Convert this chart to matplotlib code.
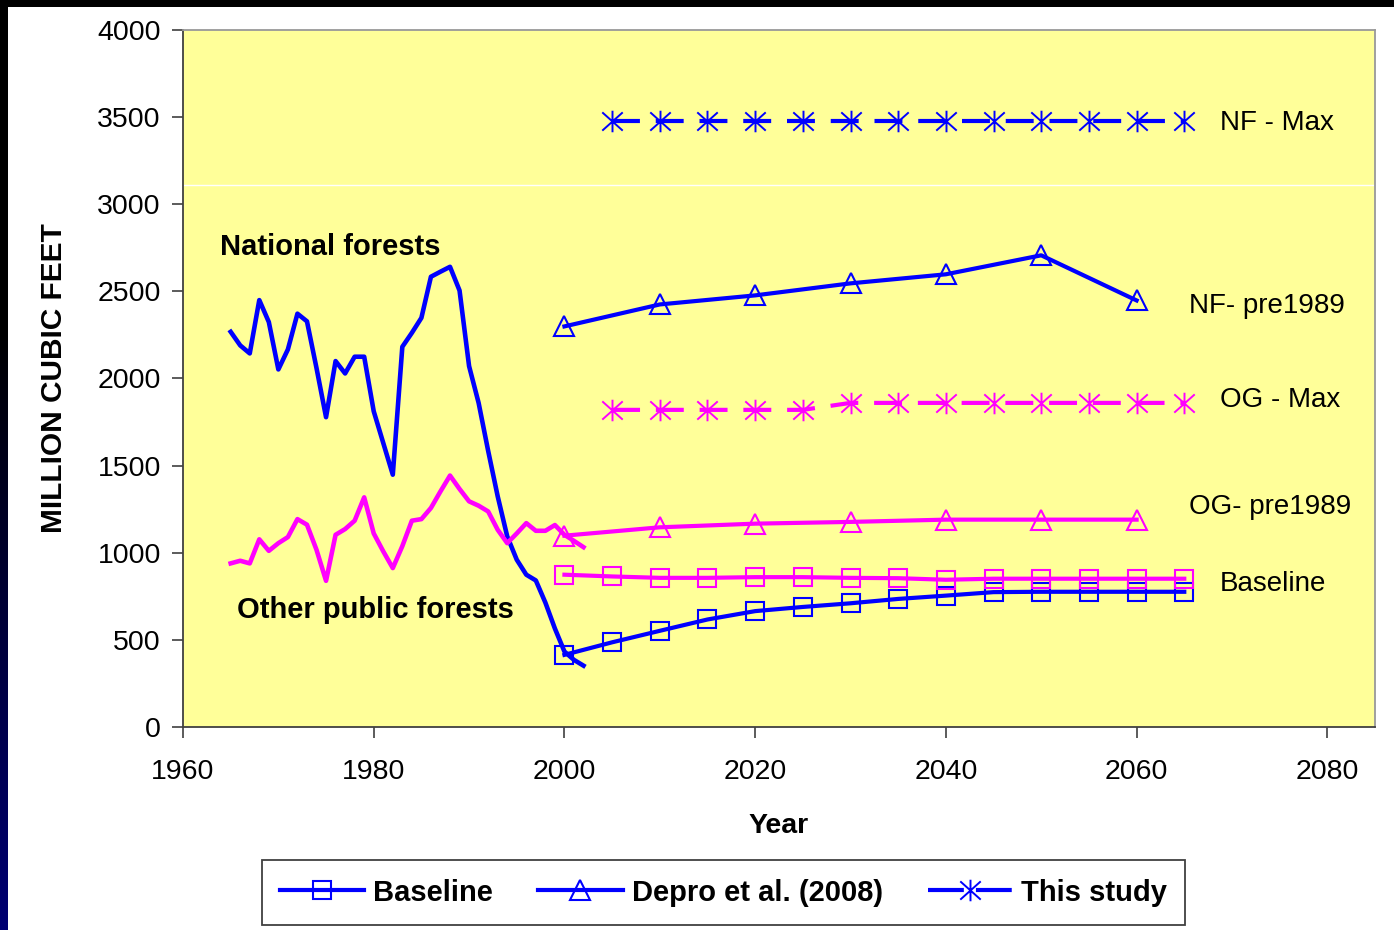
"""
plot.py
national forest / other public forest harvest, history and projections
"""

import numpy as np
import matplotlib
matplotlib.use('Agg')
import matplotlib.pyplot as plt
from matplotlib.path import Path
from matplotlib.lines import Line2D

plt.rcParams['font.family'] = ['Liberation Sans', 'DejaVu Sans']

## historical harvest 1965 - 2002
HIST_YEARS = list(range(1965, 2003))
NF_HIST = [2268, 2190, 2144, 2450, 2324, 2052, 2167, 2372, 2328, 2060,
           1778, 2100, 2029, 2125, 2125, 1812, 1630, 1448, 2182, 2262,
           2348, 2584, 2613, 2641, 2505, 2071, 1860, 1585, 1324, 1094,
           960, 874, 841, 714, 565, 433, 385, 352]
OPF_HIST = [939, 954, 939, 1077, 1011, 1055, 1090, 1193, 1161, 1017,
            839, 1103, 1136, 1184, 1318, 1111, 1008, 912, 1038, 1184,
            1193, 1257, 1352, 1443, 1366, 1295, 1270, 1237, 1132, 1055,
            1111, 1170, 1126, 1126, 1159, 1103, 1068, 1032]

## baseline projection (5-yr steps)
BASE_YEARS = list(range(2000, 2070, 5))
NF_BASE = [414, 486, 552, 617, 665, 689, 710, 735, 754, 774, 776, 776, 776, 776]
OG_BASE = [874, 864, 856, 856, 860, 860, 856, 854, 845, 851, 851, 851, 851, 851]

## Depro et al. (2008), decade steps
DEPRO_YEARS = list(range(2000, 2070, 10))
NF_DEPRO = [2299, 2425, 2477, 2546, 2598, 2707, 2448]
OG_DEPRO = [1098, 1146, 1167, 1177, 1190, 1190, 1190]

## this study (max)
MAX_YEARS = list(range(2005, 2070, 5))
NF_MAX = [3478] * 13
OG_MAX = [1820, 1820, 1820, 1820, 1820, 1860, 1860, 1860, 1860, 1860, 1860, 1860, 1860]

## right side labels
SIDE_LABELS = [('NF - Max', 2068.7, 3465), ('NF- pre1989', 2065.5, 2415),
               ('OG - Max', 2068.7, 1875), ('OG- pre1989', 2065.5, 1260),
               ('Baseline', 2068.7, 818)]

BLUE = '#0000FF'
PINK = '#FF00FF'
YELLOW = '#FFFF99'

# excel style star: vertical bar + X
STAR = Path([(0, -1), (0, 1), (-0.95, -0.85), (0.95, 0.85), (-0.95, 0.85), (0.95, -0.85)],
            [Path.MOVETO, Path.LINETO, Path.MOVETO, Path.LINETO, Path.MOVETO, Path.LINETO])
DASH = (0, (6.7, 3.8))


def plot_chart():
    '''
    draw the chart
    '''
    fig = plt.figure(figsize=(13.94, 9.30), dpi=100)
    fig.patch.set_facecolor('white')

    ## black / navy frame on top and left
    top = fig.add_axes([0, 1 - 7 / 930, 1, 7 / 930])
    top.set_axis_off()
    top.add_patch(plt.Rectangle((0, 0), 1, 1, color='black', transform=top.transAxes))
    left = fig.add_axes([0, 0, 8 / 1394, 1])
    left.set_axis_off()
    grad = np.linspace(0, 1, 256)
    grad = np.clip((grad - 0.35) / 0.65, 0, 1)
    img = np.zeros((256, 1, 3))
    img[:, 0, 2] = grad * 0.45
    left.imshow(img, aspect='auto', extent=[0, 1, 0, 1])

    ax = fig.add_axes([183 / 1394, 1 - 727 / 930, (1375 - 183) / 1394, (727 - 30) / 930])
    ax.set_facecolor(YELLOW)
    ax.axhline(3110, color='white', lw=1)

    ## historical lines
    ax.plot(HIST_YEARS, NF_HIST, color=BLUE, lw=3.3)
    ax.plot(HIST_YEARS, OPF_HIST, color=PINK, lw=3.3)

    ## baseline
    ax.plot(BASE_YEARS, NF_BASE, color=BLUE, lw=3, marker='s', ms=13.5,
            mfc='none', mec=BLUE, mew=1.5)
    ax.plot(BASE_YEARS, OG_BASE, color=PINK, lw=3, marker='s', ms=13.5,
            mfc='none', mec=PINK, mew=1.5)

    ## depro
    ax.plot(DEPRO_YEARS, NF_DEPRO, color=BLUE, lw=3, marker='^', ms=15,
            mfc='none', mec=BLUE, mew=1.5)
    ax.plot(DEPRO_YEARS, OG_DEPRO, color=PINK, lw=3, marker='^', ms=15,
            mfc='none', mec=PINK, mew=1.5)

    ## this study
    ax.plot(MAX_YEARS, NF_MAX, color=BLUE, lw=3, ls=DASH, marker=STAR, ms=15.5,
            mec=BLUE, mew=1.4)
    ax.plot(MAX_YEARS, OG_MAX, color=PINK, lw=3, ls=DASH, marker=STAR, ms=15.5,
            mec=PINK, mew=1.4)

    for txt, xx, yy in SIDE_LABELS:
        ax.text(xx, yy, txt, fontsize=20, va='center', ha='left')

    ax.text(1963.9, 2753, 'National forests', fontsize=21, fontweight='bold', va='center')
    ax.text(1965.7, 672, 'Other public forests', fontsize=21, fontweight='bold', va='center')

    ax.set_xlim(1960, 2085)
    ax.set_ylim(0, 4000)
    ax.set_xticks(range(1960, 2081, 20))
    ax.set_yticks(range(0, 4001, 500))
    ax.tick_params(direction='out', length=8, width=1.2, color='#404040',
                   labelsize=20.5)
    ax.tick_params(axis='x', pad=15)
    ax.tick_params(axis='y', pad=8)
    for side in ['left', 'bottom']:
        ax.spines[side].set_color('#404040')
        ax.spines[side].set_linewidth(1.3)
    for side in ['top', 'right']:
        ax.spines[side].set_color('#999999')
        ax.spines[side].set_linewidth(1.3)

    ax.set_xlabel('Year', fontsize=20.5, fontweight='bold', labelpad=20)
    ax.set_ylabel('MILLION CUBIC FEET', fontsize=21.5, fontweight='bold', labelpad=21)

    ## legend
    handles = [
        Line2D([], [], color=BLUE, lw=3, marker='s', ms=13.5, mfc='none', mec=BLUE, mew=1.5),
        Line2D([], [], color=BLUE, lw=3, marker='^', ms=15, mfc='none', mec=BLUE, mew=1.5),
        Line2D([], [], color=BLUE, lw=3, ls=(0, (8.6, 2.9)), marker=STAR, ms=15.5, mec=BLUE, mew=1.4),
    ]
    labels = ['Baseline', 'Depro et al. (2008)', 'This study']
    leg = fig.legend(handles, labels, loc='center', bbox_to_anchor=(0.519, 0.0403),
                     ncol=3, frameon=True, fancybox=False, shadow=False,
                     prop={'weight': 'bold', 'size': 21}, handlelength=2.9,
                     columnspacing=1.55, handletextpad=0.3, borderpad=0.62,
                     framealpha=1)
    leg.get_frame().set_edgecolor('#404040')
    leg.get_frame().set_linewidth(1.3)

    fig.savefig('out.png', dpi=100, facecolor='white')


if __name__ == '__main__':
    plot_chart()
